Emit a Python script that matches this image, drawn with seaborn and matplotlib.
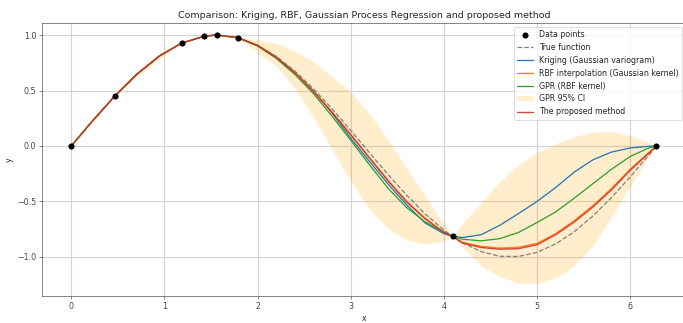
import matplotlib
matplotlib.use("Agg")
import matplotlib.pyplot as plt
import seaborn as sns

# observations
pts_x = [0.0, 0.467, 1.185, 1.43, 1.56, 1.785, 4.095, 6.283]
pts_y = [0.0, 0.45, 0.927, 0.99, 1.0, 0.977, -0.815, 0.0]

# evaluation grid
xs = [0.0, 0.2, 0.467, 0.7, 0.95, 1.185, 1.43, 1.56, 1.785,
      2.0, 2.2, 2.4, 2.6, 2.8, 3.0, 3.2, 3.4, 3.6, 3.8, 4.0, 4.095,
      4.2, 4.4, 4.6, 4.8, 5.0, 5.2, 5.4, 5.6, 5.8, 6.0, 6.2, 6.283]

true_y = [0.0, 0.199, 0.45, 0.644, 0.813, 0.927, 0.99, 1.0, 0.977,
          0.909, 0.808, 0.675, 0.516, 0.335, 0.141, -0.058, -0.256, -0.443, -0.612, -0.757, -0.815,
          -0.872, -0.952, -0.994, -0.996, -0.959, -0.883, -0.773, -0.631, -0.465, -0.279, -0.083, 0.0]

kriging_y = [0.0, 0.199, 0.45, 0.644, 0.813, 0.927, 0.99, 1.0, 0.977,
             0.907, 0.802, 0.664, 0.498, 0.297, 0.071, -0.138, -0.342, -0.53, -0.695, -0.79, -0.815,
             -0.825, -0.80, -0.715, -0.61, -0.50, -0.375, -0.235, -0.125, -0.055, -0.018, -0.003, 0.0]

rbf_y = [0.0, 0.199, 0.45, 0.644, 0.813, 0.927, 0.99, 1.0, 0.977,
         0.906, 0.801, 0.663, 0.495, 0.307, 0.106, -0.103, -0.308, -0.498, -0.653, -0.776, -0.815,
         -0.868, -0.905, -0.92, -0.913, -0.878, -0.79, -0.673, -0.538, -0.383, -0.21, -0.06, 0.0]

gpr_y = [0.0, 0.199, 0.45, 0.644, 0.813, 0.927, 0.99, 1.0, 0.977,
         0.901, 0.79, 0.645, 0.472, 0.268, 0.052, -0.168, -0.38, -0.555, -0.685, -0.775, -0.815,
         -0.84, -0.855, -0.835, -0.78, -0.69, -0.595, -0.47, -0.34, -0.21, -0.095, -0.018, 0.0]

ci_upper = [0.0, 0.22, 0.45, 0.67, 0.84, 0.927, 0.99, 1.0, 0.977,
            0.96, 0.925, 0.855, 0.76, 0.625, 0.49, 0.29, 0.06, -0.2, -0.45, -0.70, -0.815,
            -0.70, -0.51, -0.32, -0.17, -0.06, 0.02, 0.085, 0.125, 0.13, 0.095, 0.035, 0.0]
ci_lower = [0.0, 0.18, 0.45, 0.62, 0.79, 0.927, 0.99, 1.0, 0.977,
            0.84, 0.72, 0.52, 0.26, -0.03, -0.32, -0.57, -0.74, -0.85, -0.885, -0.86, -0.815,
            -0.91, -1.08, -1.18, -1.235, -1.24, -1.19, -1.08, -0.90, -0.64, -0.36, -0.10, 0.0]

proposed_y = [0.0, 0.199, 0.45, 0.644, 0.813, 0.927, 0.99, 1.0, 0.977,
              0.905, 0.799, 0.66, 0.49, 0.302, 0.101, -0.108, -0.314, -0.504, -0.658, -0.779, -0.815,
              -0.875, -0.915, -0.93, -0.925, -0.89, -0.80, -0.685, -0.55, -0.395, -0.22, -0.065, 0.0]

sns.set_style("whitegrid", {
    "axes.edgecolor": "#444444",
    "grid.color": "#d4d4d4",
    "xtick.bottom": True,
    "ytick.left": True,
    "xtick.color": "#444444",
    "ytick.color": "#444444",
})
plt.rcParams["grid.linewidth"] = 1.5

fig, ax = plt.subplots(figsize=(12, 5.675), dpi=683 / 12)
fig.subplots_adjust(left=0.0615, right=1.004, top=0.93, bottom=0.0836)

sns.scatterplot(x=pts_x, y=pts_y, ax=ax, color="black", s=60, linewidth=0,
                zorder=5, label="Data points")
sns.lineplot(x=xs, y=true_y, ax=ax, color="gray", linestyle="--", linewidth=1.6,
             label="True function")
sns.lineplot(x=xs, y=kriging_y, ax=ax, color="#1f77b4", linewidth=1.6,
             label="Kriging (Gaussian variogram)")
sns.lineplot(x=xs, y=rbf_y, ax=ax, color="#ff7f0e", linewidth=1.6,
             label="RBF interpolation (Gaussian kernel)")
sns.lineplot(x=xs, y=gpr_y, ax=ax, color="#2ca02c", linewidth=1.6,
             label="GPR (RBF kernel)")
ax.fill_between(xs, ci_lower, ci_upper, color="orange", alpha=0.2,
                linewidth=0, label="GPR 95% CI")
sns.lineplot(x=xs, y=proposed_y, ax=ax, color="#d62728", linewidth=1.8,
             alpha=0.85, label="The proposed method")

ax.set_title("Comparison: Kriging, RBF, Gaussian Process Regression and proposed method")
ax.set_xlabel("x")
ax.set_ylabel("y")
ax.margins(x=0.05, y=0.05)
ax.legend(loc="upper right")

fig.savefig("out.png")
